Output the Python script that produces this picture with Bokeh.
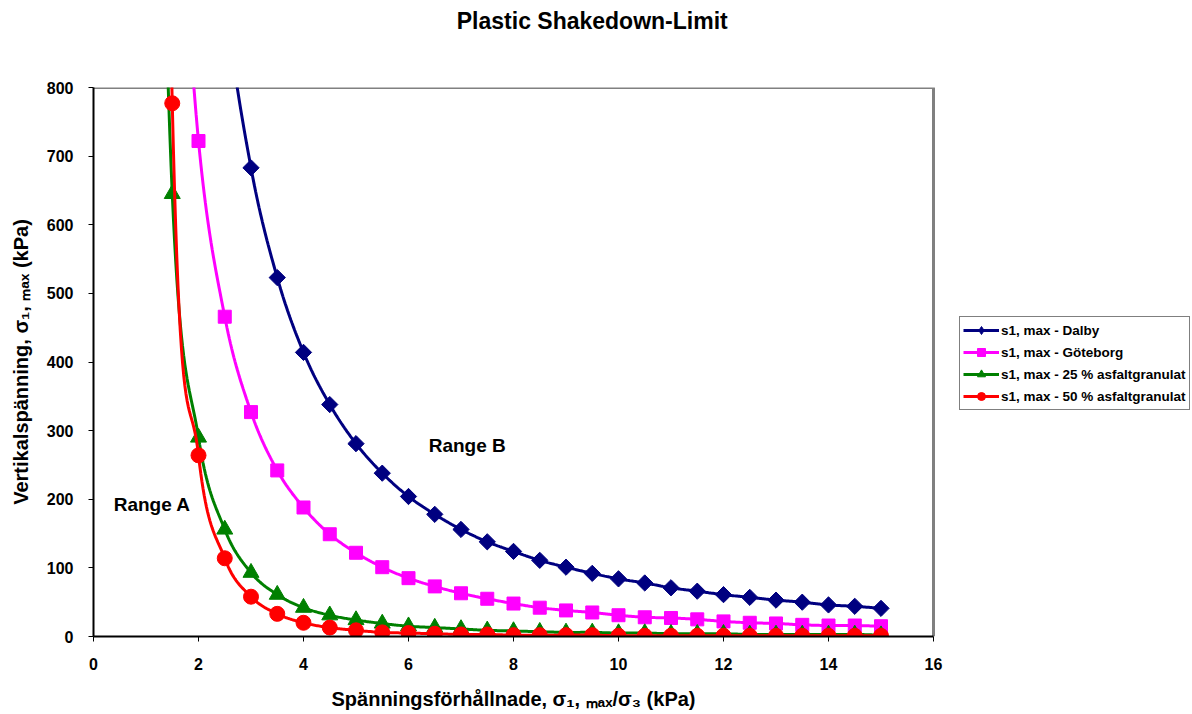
import numpy as np
from bokeh.plotting import figure
from bokeh.models import (Range1d, FixedTicker, Label, Legend, LegendItem,
                          LinearAxis)
from bokeh.embed import file_html
from bokeh.resources import INLINE

# ---------------- data ----------------
title_text = "Plastic Shakedown-Limit"
x_label = "Spänningsförhållnade, σ₁, ₘₐₓ/σ₃ (kPa)"
y_label = "Vertikalspänning, σ₁, ₘₐₓ (kPa)"

x_ticks = [0, 2, 4, 6, 8, 10, 12, 14, 16]
y_ticks = [0, 100, 200, 300, 400, 500, 600, 700, 800]

dalby_x = [2.0, 2.5, 3.0, 3.5, 4.0, 4.5, 5.0, 5.5, 6.0, 6.5, 7.0, 7.5, 8.0, 8.5,
           9.0, 9.5, 10.0, 10.5, 11.0, 11.5, 12.0, 12.5, 13.0, 13.5, 14.0, 14.5, 15.0]
dalby_y = [1380, 940, 683, 523, 414, 338, 281, 238, 204, 178, 156, 138, 124, 111,
           101, 92, 84, 78, 71, 66, 61, 57, 53, 50, 46, 44, 41]

gbg_x = [1.5, 2.0, 2.5, 3.0, 3.5, 4.0, 4.5, 5.0, 5.5, 6.0, 6.5, 7.0, 7.5, 8.0, 8.5,
         9.0, 9.5, 10.0, 10.5, 11.0, 11.5, 12.0, 12.5, 13.0, 13.5, 14.0, 14.5, 15.0]
gbg_y = [1260, 722, 466, 327, 242, 188, 149, 122, 101, 85, 73, 63, 55, 48, 42,
         38, 35, 31, 28, 27, 25, 22, 20, 19, 17, 16, 16, 15]

a25_x = [1.0, 1.5, 2.0, 2.5, 3.0, 3.5, 4.0, 4.5, 5.0, 5.5, 6.0, 6.5, 7.0, 7.5, 8.0,
         8.5, 9.0, 9.5, 10.0, 10.5, 11.0, 11.5, 12.0, 12.5, 13.0, 13.5, 14.0, 14.5, 15.0]
a25_y = [2000, 645, 290, 156, 93, 61, 42, 31, 24, 19, 15, 13, 11, 9, 8,
         7, 6, 6, 5, 5, 4, 4, 4, 3, 3, 3, 3, 3, 2]

a50_x = [1.0, 1.5, 2.0, 2.5, 3.0, 3.5, 4.0, 4.5, 5.0, 5.5, 6.0, 6.5, 7.0, 7.5, 8.0,
         8.5, 9.0, 9.5, 10.0, 10.5, 11.0, 11.5, 12.0, 12.5, 13.0, 13.5, 14.0, 14.5, 15.0]
a50_y = [3500, 777, 264, 114, 58, 33, 20, 13, 9, 6, 5, 4, 3, 3, 2,
         2, 2, 2, 1, 1, 1, 1, 1, 1, 1, 1, 1, 1, 1]

series_names = ["s1, max - Dalby", "s1, max - Göteborg",
                "s1, max - 25 % asfaltgranulat", "s1, max - 50 % asfaltgranulat"]
range_labels = ["Range A", "Range B"]

FONT = "Liberation Sans"
X_MAX = 16.0                       # end of the drawn x axis
PX_PER_X = 840.0 / 16.0            # frame scale (plot area 93..933 px)
X_VIEW_END = (1192 - 93) / PX_PER_X  # frame extended to the right edge (legend room)


def smooth(xs, ys, n=24):
    """Bezier smoothing through the points (Excel-like smoothed line)."""
    P = np.column_stack([np.asarray(xs, float), np.asarray(ys, float)])
    m = len(P)
    out = []
    t = np.linspace(0, 1, n)[:, None]
    for i in range(m - 1):
        p0 = P[i - 1] if i > 0 else P[i]
        p1 = P[i]
        p2 = P[i + 1]
        p3 = P[i + 2] if i + 2 < m else P[i + 1]
        c1 = p1 + (p2 - p0) / 6.0
        c2 = p2 - (p3 - p1) / 6.0
        seg = ((1 - t) ** 3) * p1 + 3 * ((1 - t) ** 2) * t * c1 + \
              3 * (1 - t) * t ** 2 * c2 + t ** 3 * p2
        out.append(seg if i == 0 else seg[1:])
    a = np.vstack(out)
    return a[:, 0], a[:, 1]


p = figure(width=1192, height=714, output_backend="svg", toolbar_location=None,
           x_range=Range1d(0, X_VIEW_END), y_range=Range1d(0, 800),
           min_border_left=93, min_border_right=0, min_border_top=87,
           min_border_bottom=78)
p.background_fill_color = "white"
p.border_fill_color = "white"
p.outline_line_color = None
p.xgrid.visible = False
p.ygrid.visible = False

# plot-area border (top and right, grey)
p.line([0, X_MAX, X_MAX], [800, 800, 0], line_color="#808080", line_width=3)


def style_axis(ax, ticks):
    ax.ticker = FixedTicker(ticks=ticks)
    ax.minor_tick_line_color = None
    ax.major_tick_in = 0
    ax.major_tick_out = 5
    ax.major_tick_line_color = "black"
    ax.axis_line_color = "black"
    ax.axis_line_width = 2
    ax.major_label_text_font = FONT
    ax.major_label_text_font_style = "bold"
    ax.major_label_text_font_size = "16px"
    ax.major_label_text_color = "black"
    ax.axis_label_text_font = FONT
    ax.axis_label_text_font_style = "bold"
    ax.axis_label_text_font_size = "20px"
    ax.axis_label_text_color = "black"


style_axis(p.xaxis[0], x_ticks)
style_axis(p.yaxis[0], y_ticks)
p.xaxis[0].bounds = (0, X_MAX)
p.xaxis[0].major_label_standoff = 16
p.yaxis[0].axis_label = y_label
p.yaxis[0].major_label_standoff = 15
p.yaxis[0].axis_label_standoff = 12


def text_axis(text, pos, standoff, size):
    ax = LinearAxis(ticker=FixedTicker(ticks=[pos]),
                    major_label_overrides={pos: text})
    ax.axis_line_color = None
    ax.major_tick_line_color = None
    ax.minor_tick_line_color = None
    ax.major_tick_in = 0
    ax.major_tick_out = 0
    ax.major_label_standoff = standoff
    ax.major_label_text_font = FONT
    ax.major_label_text_font_style = "bold"
    ax.major_label_text_font_size = size
    ax.major_label_text_color = "black"
    return ax


# x-axis title centred under the drawn axis (0..16)
p.add_layout(text_axis(x_label, 8, 15, "20px"), "below")
# chart title
p.add_layout(text_axis(title_text, 9.5, 54, "23px"), "above")

styles = [
    (dalby_x, dalby_y, "#000080", "square", 11.5, np.pi / 4, "diamond", 11),
    (gbg_x, gbg_y, "#FF00FF", "square", 13, 0.0, "square", 8),
    (a25_x, a25_y, "#008000", "triangle", 16, 0.0, "triangle", 9),
    (a50_x, a50_y, "#FF0000", "circle", 15, 0.0, "circle", 8),
]

items = []
for (xs, ys, col, mk, sz, ang, lmk, lsz), name in zip(styles, series_names):
    sx, sy = smooth(xs, ys)
    p.line(sx, sy, line_color=col, line_width=3)
    p.scatter(xs, ys, marker=mk, size=sz, angle=ang, fill_color=col,
              line_color=col)
    # legend-only renderers placed outside the view (smaller legend markers)
    lr = p.line(x=[-5, -4], y=[-500, -500], line_color=col, line_width=3)
    sr = p.scatter(x=[-5], y=[-500], marker=lmk, size=lsz,
                   fill_color=col, line_color=col)
    items.append(LegendItem(label=name, renderers=[lr, sr]))

legend = Legend(items=items, location=(866, 226))
legend.label_text_font = FONT
legend.label_text_font_style = "bold"
legend.label_text_font_size = "13.5px"
legend.label_text_color = "black"
legend.glyph_width = 36
legend.glyph_height = 20
legend.label_height = 20
legend.label_standoff = 2
legend.spacing = 2
legend.padding = 3
legend.margin = 0
legend.border_line_color = "black"
legend.border_line_width = 1
legend.background_fill_color = "white"
legend.background_fill_alpha = 1.0
p.add_layout(legend, "center")

p.add_layout(Label(x=1.118, y=193, text=range_labels[0], text_align="center",
                   text_baseline="alphabetic", text_font=FONT,
                   text_font_style="bold", text_font_size="19px",
                   text_color="black"))
p.add_layout(Label(x=7.118, y=278, text=range_labels[1], text_align="center",
                   text_baseline="alphabetic", text_font=FONT,
                   text_font_style="bold", text_font_size="19px",
                   text_color="black"))

open("out.html", "w").write(file_html(p, INLINE))
